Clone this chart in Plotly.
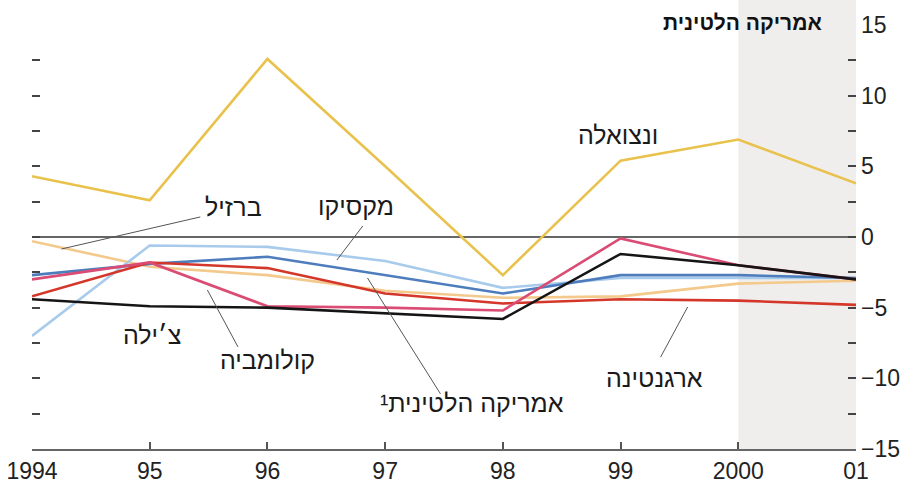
import plotly.graph_objects as go

# Years on the horizontal axis
years = [1994, 1995, 1996, 1997, 1998, 1999, 2000, 2001]
year_labels = ["1994", "95", "96", "97", "98", "99", "2000", "01"]

# Current-account balance (% of GDP) by country
venezuela = [4.3, 2.6, 12.6, 5.0, -2.7, 5.4, 6.9, 3.8]
brazil = [-0.3, -2.1, -2.7, -3.8, -4.3, -4.2, -3.3, -3.1]
mexico = [-7.0, -0.6, -0.7, -1.7, -3.6, -2.9, -2.9, -2.9]
latin_america = [-2.7, -1.9, -1.4, -2.7, -4.0, -2.7, -2.7, -2.9]
argentina = [-4.2, -1.8, -2.2, -4.0, -4.7, -4.4, -4.5, -4.8]
colombia = [-3.0, -1.8, -4.9, -5.0, -5.2, -0.1, -2.0, -3.0]
chile = [-4.4, -4.9, -5.0, -5.4, -5.8, -1.2, -2.0, -3.0]

# Value axis ticks
y_ticks = [-15, -12.5, -10, -7.5, -5, -2.5, 0, 2.5, 5, 7.5, 10, 12.5, 15]
y_tick_text = ["\u221215", "", "\u221210", "", "\u22125", "", "0", "", "5", "", "10", "", "15"]

forecast_start, forecast_end = 2000, 2001

series = [
    ("ברזיל", brazil, "#f3c98c"),
    ("מקסיקו", mexico, "#a8cbec"),
    ("אמריקה הלטינית", latin_america, "#4d7dbd"),
    ("ארגנטינה", argentina, "#d4372a"),
    ("קולומביה", colombia, "#db4c74"),
    ("צ׳ילה", chile, "#151515"),
    ("ונצואלה", venezuela, "#e8c24c"),
]

fig = go.Figure()
for name, vals, color in series:
    fig.add_trace(go.Scatter(
        x=years, y=vals, mode="lines", name=name,
        line=dict(color=color, width=2.6), hoverinfo="skip",
    ))

# Shaded forecast band spanning the full height
x_lo, x_hi = years[0], years[-1]
fig.add_shape(
    type="rect", xref="x domain", yref="paper",
    x0=(forecast_start - x_lo) / (x_hi - x_lo), x1=(forecast_end - x_lo) / (x_hi - x_lo),
    y0=0, y1=1.06, fillcolor="#f0eded", line_width=0, layer="below",
)

heb_family = "Liberation Sans, Arial, sans-serif"
label_font = dict(family=heb_family, size=25, color="#1a1a1a")

labels = [
    ("ונצואלה", 1998.98, 7.2),
    ("ברזיל", 1995.71, 2.1),
    ("מקסיקו", 1996.75, 2.2),
    ("צ׳ילה", 1995.02, -6.9),
    ("קולומביה", 1996.0, -8.7),
    ("\u00b9אמריקה הלטינית", 1997.74, -11.75),
    ("ארגנטינה", 1999.29, -10.0),
]
for text, x, y in labels:
    fig.add_annotation(x=x, y=y, text=text, showarrow=False, font=label_font,
                       xanchor="center", yanchor="middle")

# Leader lines from labels to their series
leaders = [
    (1995.43, 1.42, 1994.25, -0.85),
    (1996.81, 0.78, 1996.59, -1.63),
    (1995.49, -3.75, 1995.75, -7.78),
    (1996.85, -2.9, 1997.47, -11.1),
    (1999.34, -8.5, 1999.57, -4.95),
]
for x0, y0, x1, y1 in leaders:
    fig.add_shape(type="line", x0=x0, y0=y0, x1=x1, y1=y1,
                  line=dict(color="#555555", width=1))

# Panel title
fig.add_annotation(xref="paper", yref="paper", x=0.862, y=1.007,
                   text="<b>אמריקה הלטינית</b>", showarrow=False,
                   font=dict(family=heb_family, size=21, color="#111"),
                   xanchor="center", yanchor="middle")

tick_font = dict(family="Liberation Sans, Arial, sans-serif", size=23, color="#222")

fig.update_layout(
    width=908, height=492,
    margin=dict(l=32, r=52, t=25, b=43, autoexpand=False),
    paper_bgcolor="white", plot_bgcolor="white",
    showlegend=False,
    xaxis=dict(
        range=[x_lo, x_hi], tickvals=years, ticktext=year_labels,
        showgrid=False, zeroline=False, showline=True, linecolor="#666", linewidth=2,
        ticks="inside", ticklen=7, tickwidth=2, tickcolor="#555",
        tickfont=tick_font, fixedrange=True, automargin=False,
    ),
    yaxis=dict(
        range=[-15, 15], side="right", tickvals=y_ticks, ticktext=y_tick_text,
        showgrid=False, zeroline=True, zerolinecolor="#666", zerolinewidth=1.5,
        showline=False, mirror="ticks", ticks="inside", ticklen=8, tickwidth=2,
        tickcolor="#444", tickfont=tick_font, ticklabelstandoff=4, automargin=False,
    ),
)

fig.write_html("out.html")
